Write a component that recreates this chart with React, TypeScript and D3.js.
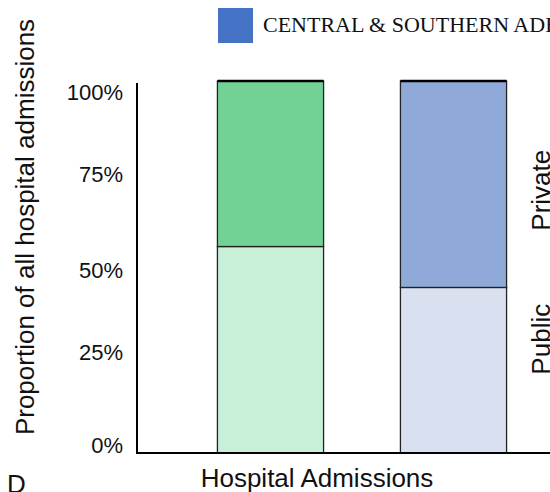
import React from "react";
import * as d3 from "d3";

const groups = ["Rest of State", "Central & Southern Adelaide"];
const publicShare = [0.555, 0.445];
const privateShare = [0.445, 0.555];
const privateColors = ["#72D296", "#8FA9D8"];
const publicColors = ["#C8EFD8", "#D9E0EF"];
const yTicks = [0, 0.25, 0.5, 0.75, 1];
const legendLabel = "CENTRAL & SOUTHERN ADELAIDE";
const legendColor = "#4472C4";

const W = 550, H = 492;
const axisX = 137, axisY = 453, topY = 81;
// label baseline nudges relative to tick position (as drawn in the reference)
const tickNudge: Record<number, number> = { 0: 0, 0.25: 0, 0.5: 11, 0.75: 8, 1: 19 };

export default function App() {
  const x = d3.scaleBand<string>().domain(groups).range([179, 545]).paddingInner(0.42).paddingOuter(0.21);
  const y = d3.scaleLinear().domain([0, 1]).range([axisY, topY]);
  const stackData = groups.map((g, i) => ({ g, pub: publicShare[i], priv: privateShare[i] }));
  const series = d3.stack<any>().keys(["pub", "priv"])(stackData as any);
  const sans = "Arial, 'Liberation Sans', sans-serif";
  const fmt = d3.format(".0%");
  const privMid = y(publicShare[1] + privateShare[1] / 2) + 6;
  const pubMid = y(publicShare[1] / 2) - 31;
  return (
    <svg width={W} height={H} style={{ position: "absolute", left: 0, top: 0, background: "#fff" }}>
      {/* legend */}
      <rect x={218} y={8} width={35} height={35} fill={legendColor} />
      <text x={263} y={32} fontFamily="'Liberation Serif', 'Times New Roman', serif" fontSize={22} fill="#111">{legendLabel}</text>

      {/* bars */}
      {series.map((s, si) =>
        s.map((d, i) => {
          const fill = si === 0 ? publicColors[i] : privateColors[i];
          return (
            <rect key={`${si}-${i}`} x={x(groups[i])} width={x.bandwidth()} y={y(d[1])} height={y(d[0]) - y(d[1])}
              fill={fill} stroke="#222" strokeWidth={1.3} />
          );
        })
      )}
      {groups.map((g) => (
        <line key={g} x1={x(g)} x2={(x(g) as number) + x.bandwidth()} y1={y(1)} y2={y(1)} stroke="#000" strokeWidth={2.5} />
      ))}

      {/* axes */}
      <line x1={axisX} x2={axisX} y1={83} y2={axisY + 1} stroke="#000" strokeWidth={2} />
      <line x1={axisX - 1} x2={W} y1={axisY} y2={axisY} stroke="#000" strokeWidth={2} />

      {yTicks.map((t) => (
        <text key={t} x={123} y={y(t) + tickNudge[t]} textAnchor="end" fontFamily={sans} fontSize={22} fill="#111">{fmt(t)}</text>
      ))}

      <text transform={`translate(34,227) rotate(-90)`} textAnchor="middle" fontFamily={sans} fontSize={26} fill="#111">
        Proportion of all hospital admissions
      </text>
      <text x={317} y={487} textAnchor="middle" fontFamily={sans} fontSize={26} fill="#111">Hospital Admissions</text>
      <text x={7} y={493} fontFamily={sans} fontSize={26} fill="#111">D</text>

      <text transform={`translate(550,${privMid}) rotate(-90)`} textAnchor="middle" fontFamily={sans} fontSize={26} fill="#111">Private</text>
      <text transform={`translate(550,${pubMid}) rotate(-90)`} textAnchor="middle" fontFamily={sans} fontSize={26} fill="#111">Public</text>
    </svg>
  );
}
